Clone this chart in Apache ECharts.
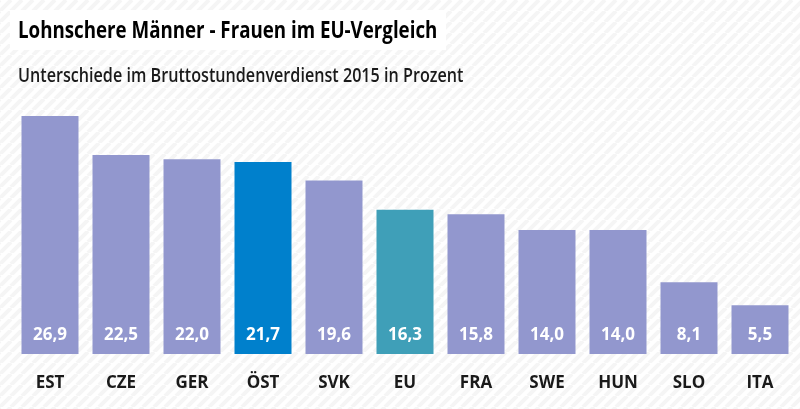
<!DOCTYPE html>
<html>
<head>
<meta charset="utf-8">
<script src="https://cdn.jsdelivr.net/npm/echarts@6/dist/echarts.min.js"></script>
<style>
  html, body { margin: 0; padding: 0; background: #fff; }
  #main { width: 800px; height: 409px; }
</style>
</head>
<body>
<div id="main"></div>
<script>
var categories = ['EST', 'CZE', 'GER', 'ÖST', 'SVK', 'EU', 'FRA', 'SWE', 'HUN', 'SLO', 'ITA'];
var values = [26.9, 22.5, 22.0, 21.7, 19.6, 16.3, 15.8, 14.0, 14.0, 8.1, 5.5];
var barColors = ['#9297ce', '#9297ce', '#9297ce', '#0080cc', '#9297ce', '#3f9fb8', '#9297ce', '#9297ce', '#9297ce', '#9297ce', '#9297ce'];

var fontName = '"Open Sans", sans-serif';

// schraffierter Hintergrund
function stripes() {
  var size = 11;
  var c = document.createElement('canvas');
  c.width = size;
  c.height = size;
  var ctx = c.getContext('2d');
  ctx.fillStyle = '#ffffff';
  ctx.fillRect(0, 0, size, size);
  ctx.strokeStyle = '#f5f5f5';
  ctx.lineWidth = 4;
  for (var i = -size; i <= size * 2; i += size) {
    ctx.beginPath();
    ctx.moveTo(i, size);
    ctx.lineTo(i + size, 0);
    ctx.stroke();
  }
  return c;
}

var chart = echarts.init(document.getElementById('main'), null, { renderer: 'canvas' });

chart.setOption({
  animation: false,
  backgroundColor: { image: stripes(), repeat: 'repeat' },
  // Titel gestaucht, die Schrift im Original ist schmal
  graphic: [{
    type: 'rect',
    shape: { x: 10, y: 10, width: 436, height: 40 },
    style: { fill: '#ffffff' }
  }, {
    type: 'text',
    x: 18,
    y: 31,
    scaleX: 0.78,
    style: {
      text: 'Lohnschere Männer - Frauen im EU-Vergleich',
      font: 'bold 24px "Open Sans", sans-serif',
      fill: '#000000',
      verticalAlign: 'middle'
    }
  }, {
    type: 'text',
    x: 18,
    y: 77,
    scaleX: 0.85,
    style: {
      text: 'Unterschiede im Bruttostundenverdienst 2015 in Prozent',
      font: '600 19px "Open Sans", sans-serif',
      fill: '#1a1a1a',
      verticalAlign: 'middle'
    }
  }],
  grid: { left: 14.5, right: 4.5, top: 88.5, bottom: 55 },
  xAxis: {
    type: 'category',
    data: categories,
    axisLine: { show: false },
    axisTick: { show: false },
    axisLabel: { margin: 21, fontFamily: fontName, fontSize: 17, fontWeight: 'bold', color: '#1a1a1a' }
  },
  yAxis: { type: 'value', min: 0, max: 30, show: false },
  series: [{
    type: 'bar',
    barWidth: 57,
    data: values.map(function (v, i) {
      return { value: v, itemStyle: { color: barColors[i] } };
    }),
    label: {
      show: true,
      position: 'insideBottom',
      distance: 10,
      fontFamily: fontName,
      fontSize: 17,
      fontWeight: 'bold',
      color: '#ffffff',
      formatter: function (p) {
        return p.value.toFixed(1).replace('.', ',');
      }
    }
  }]
});
</script>
</body>
</html>
